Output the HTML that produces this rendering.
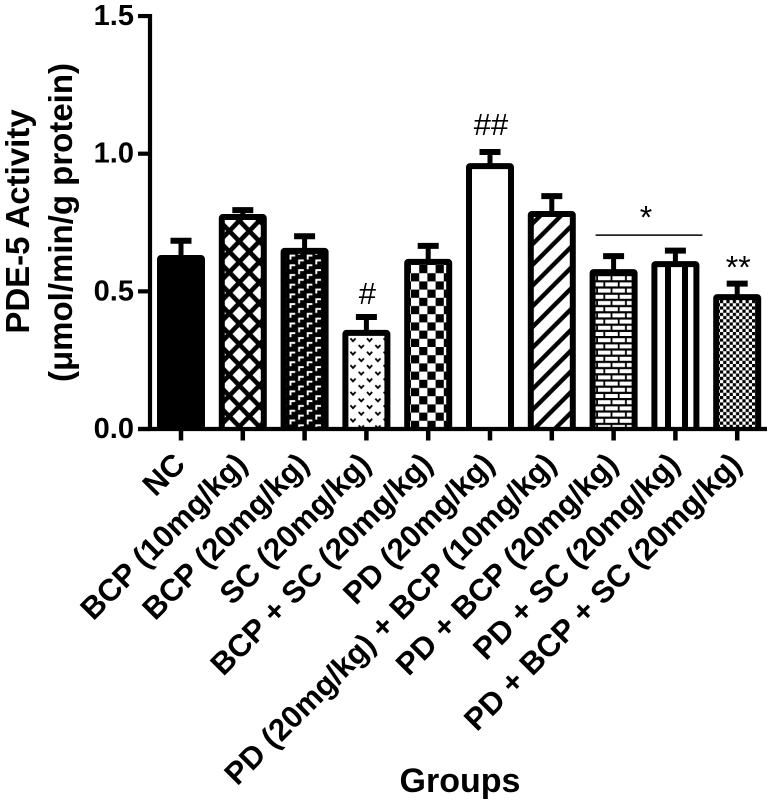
<!DOCTYPE html>
<html lang="en">
<head>
<meta charset="utf-8">
<title>PDE-5 Activity by Group</title>
<style>
html,body{margin:0;padding:0;background:#fff}
svg{display:block}
text{font-family:"Liberation Sans",Arial,sans-serif;fill:#000}
.b{font-weight:bold}
</style>
</head>
<body>
<svg id="chart" width="774" height="805" viewBox="0 0 774 805" xmlns="http://www.w3.org/2000/svg">
<defs>
<clipPath id="plot-clip"><rect x="0" y="0" width="774" height="430"/></clipPath>
<pattern id="p-solid" patternUnits="userSpaceOnUse" width="8" height="8"><rect width="8" height="8" fill="#000"/></pattern>
<pattern id="p-cross" patternUnits="userSpaceOnUse" x="229.3" y="231" width="20" height="20.6">
<rect width="20" height="20.6" fill="#fff"/>
<path d="M-10 -10.3L30 30.9M-10 10.3L10 30.9M10 -10.3L30 10.3M-10 10.3L10 -10.3M-10 30.9L30 -10.3M10 30.9L30 10.3" stroke="#000" stroke-width="4.6" fill="none"/>
</pattern>
<pattern id="p-hook" patternUnits="userSpaceOnUse" x="289" y="254" width="17.2" height="9.7">
<rect width="17.2" height="9.7" fill="#000"/>
<path d="M1.5 5.6V1.6H6.2" stroke="#fff" stroke-width="1.9" fill="none"/>
<path d="M10.1 10.4V6.4H14.8M10.1 0.7V-3.3H14.8" stroke="#fff" stroke-width="1.9" fill="none"/>
</pattern>
<pattern id="p-dots" patternUnits="userSpaceOnUse" x="349" y="335" width="16.6" height="13.4">
<rect width="16.6" height="13.4" fill="#fff"/>
<path d="M1.4 3.4L4 6.2L6.6 3.4M9.7 10L12.3 12.8L14.9 10M9.7 -3.4L12.3 -0.6L14.9 -3.4" stroke="#000" stroke-width="1.8" fill="none"/>
</pattern>
<pattern id="p-check" patternUnits="userSpaceOnUse" x="411" y="265" width="16.4" height="16.4">
<rect width="16.4" height="16.4" fill="#fff"/>
<rect x="8.2" width="8.2" height="8.2" fill="#000"/><rect y="8.2" width="8.2" height="8.2" fill="#000"/>
</pattern>
<pattern id="p-none" patternUnits="userSpaceOnUse" width="8" height="8"><rect width="8" height="8" fill="#fff"/></pattern>
<pattern id="p-diag" patternUnits="userSpaceOnUse" x="536" y="220" width="20.7" height="20.7">
<rect width="20.7" height="20.7" fill="#fff"/>
<path d="M-5 5L5 -5M-5 25.7L25.7 -5M15.7 25.7L25.7 15.7" stroke="#000" stroke-width="4.4" fill="none"/>
</pattern>
<pattern id="p-brick" patternUnits="userSpaceOnUse" x="598" y="275" width="14.4" height="12.4">
<rect width="14.4" height="12.4" fill="#000"/>
<rect x="0" y="1.2" width="12.6" height="4" fill="#fff"/>
<rect x="-7.2" y="7.4" width="12.6" height="4" fill="#fff"/>
<rect x="7.2" y="7.4" width="12.6" height="4" fill="#fff"/>
</pattern>
<pattern id="p-vert" patternUnits="userSpaceOnUse" x="659.5" y="0" width="17" height="8">
<rect width="17" height="8" fill="#fff"/><rect x="5.5" width="6" height="8" fill="#000"/>
</pattern>
<pattern id="p-fine" patternUnits="userSpaceOnUse" x="720" y="300" width="6.4" height="6.4">
<rect width="6.4" height="6.4" fill="#fff"/>
<rect width="3.2" height="3.2" fill="#000"/><rect x="3.2" y="3.2" width="3.2" height="3.2" fill="#000"/>
</pattern>
</defs>
<g id="bars" clip-path="url(#plot-clip)"></g>
<g id="axes"></g>
<g id="labels"></g>
<g id="annots"></g>
<text class="b" font-size="33" text-anchor="middle" transform="translate(29 221.5) rotate(-90)">PDE-5 Activity</text>
<text class="b" font-size="33" text-anchor="middle" transform="translate(72 222.5) rotate(-90)">(μmol/min/g protein)</text>
<text class="b" font-size="34" text-anchor="middle" x="460" y="792">Groups</text>
</svg>
<script>
const categories = ["NC","BCP (10mg/kg)","BCP (20mg/kg)","SC (20mg/kg)","BCP + SC (20mg/kg)","PD (20mg/kg)","PD (20mg/kg) + BCP (10mg/kg)","PD + BCP (20mg/kg)","PD + SC (20mg/kg)","PD + BCP + SC (20mg/kg)"];
const means = [0.621,0.770,0.647,0.349,0.607,0.955,0.781,0.570,0.599,0.479];
const errors = [0.063,0.025,0.053,0.058,0.058,0.051,0.065,0.058,0.049,0.049];
const fills = ["solid","cross","hook","dots","check","none","diag","brick","vert","fine"];
const yTicks = ["0.0","0.5","1.0","1.5"];
const marks = [["#",3],["##",5],["**",9]];
const bracketGroups = [7,8];

const NS = "http://www.w3.org/2000/svg";
const yScale = v => 429 - v * 275.3;
const xScale = i => 181 + i * 61.8;
const markGap = s => s === "##" ? 17 : s === "#" ? 13 : 5;
function mk(parent, tag, attrs, txt) {
  const e = document.createElementNS(NS, tag);
  for (const k in attrs) e.setAttribute(k, attrs[k]);
  if (txt !== undefined) e.textContent = txt;
  parent.appendChild(e);
  return e;
}
const barsG = document.getElementById("bars");
const axesG = document.getElementById("axes");
const labelsG = document.getElementById("labels");
const annotsG = document.getElementById("annots");

categories.forEach((c, i) => {
  const x = xScale(i), top = yScale(means[i]), cap = yScale(means[i] + errors[i]);
  const stem = mk(barsG, "line", {x1: x, x2: x, y1: top, y2: cap, stroke: "#000", "stroke-width": 5});
  
  
  const capLine = mk(barsG, "line", {x1: x - 10.5, x2: x + 10.5, y1: cap, y2: cap, stroke: "#000", "stroke-width": 6});
  
  
  const bar = mk(barsG, "rect", {x: x - 21, y: top, width: 42, height: 440 - top, rx: 1, fill: "url(#p-" + fills[i] + ")", stroke: "#000", "stroke-width": 6});
  
  
  const tick = mk(axesG, "line", {x1: x, x2: x, y1: 429, y2: 440.5, stroke: "#000", "stroke-width": 4.5});
  
  
  const label = mk(labelsG, "text", {class: "b", "font-size": 31, "text-anchor": "end", transform: "translate(" + (x + 6) + " 466) rotate(-45)"}, c);
  
  
});

const yAxis = mk(axesG, "line", {x1: 150, x2: 150, y1: yScale(1.5) - 2, y2: 431, stroke: "#000", "stroke-width": 4.2});


const xAxis = mk(axesG, "line", {x1: 138, x2: 767, y1: 429, y2: 429, stroke: "#000", "stroke-width": 4.2});



yTicks.forEach(t => {
  const y = yScale(parseFloat(t));
  const tk = mk(axesG, "line", {x1: 138, x2: 150, y1: y, y2: y, stroke: "#000", "stroke-width": 4.2});
  
  
  const lb = mk(labelsG, "text", {class: "b", "font-size": 29, "text-anchor": "end", x: 134, y: y + 9}, t);
  
  
});

marks.forEach(m => {
  const i = m[1];
  const y = yScale(means[i] + errors[i]) - markGap(m[0]);
  const a = mk(annotsG, "text", {"font-size": m[0] === "**" ? 32 : 31, "text-anchor": "middle", x: xScale(i) + 1, y: y}, m[0]);
  
  
});

const bx1 = xScale(bracketGroups[0]) - 18, bx2 = xScale(bracketGroups[1]) + 27;
const by = yScale(Math.max(means[7] + errors[7], means[8] + errors[8])) - 15.5;
const bracket = mk(annotsG, "line", {x1: bx1, x2: bx2, y1: by, y2: by, stroke: "#000", "stroke-width": 1.5});


const star = mk(annotsG, "text", {"font-size": 32, "text-anchor": "middle", x: (bx1 + bx2) / 2 - 3, y: by - 6.5}, "*");


</script>
</body>
</html>
